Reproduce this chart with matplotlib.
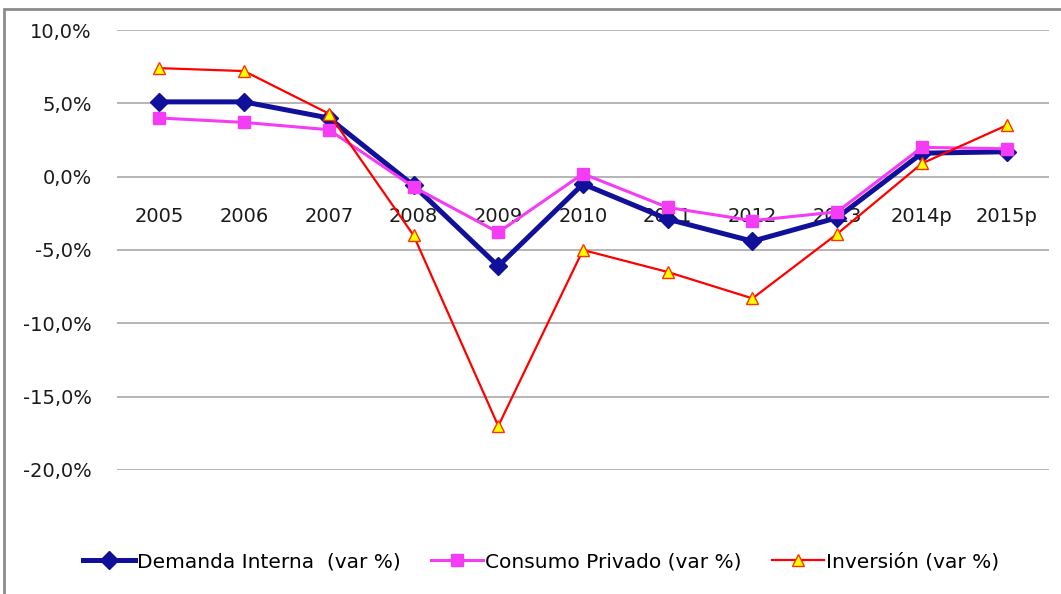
import matplotlib
matplotlib.use('Agg')
import matplotlib.pyplot as plt
from matplotlib.patches import Rectangle
from matplotlib.ticker import FuncFormatter

years = ['2005', '2006', '2007', '2008', '2009', '2010', '2011', '2012', '2013', '2014p', '2015p']
demanda_interna = [5.1, 5.1, 4.0, -0.6, -6.1, -0.5, -2.9, -4.4, -2.8, 1.6, 1.7]
consumo_privado = [4.0, 3.7, 3.2, -0.7, -3.8, 0.2, -2.1, -3.0, -2.4, 2.0, 1.9]
inversion = [7.4, 7.2, 4.3, -4.0, -17.0, -5.0, -6.5, -8.3, -3.9, 0.9, 3.5]

labels = ['Demanda Interna  (var %)', 'Consumo Privado (var %)', 'Inversión (var %)']

fig = plt.figure(figsize=(10.61, 5.94), dpi=100)
W, H = 1061, 594

# outer chart border (cut off at right/bottom like the screenshot)
fig.patches.append(Rectangle((4 / W, -0.05), 1.1, 1 - 9 / H + 0.05, transform=fig.transFigure,
                             fill=False, edgecolor='#8c8c8c', linewidth=2))

ax = fig.add_axes([117 / W, 1 - 470 / H, (1049 - 117) / W, (470 - 30) / H])
x = range(len(years))

ax.plot(x, demanda_interna, color='#10109a', linewidth=3.6, marker='D', markersize=9.5,
        label=labels[0], zorder=3)
ax.plot(x, consumo_privado, color='#f43cf4', linewidth=2.2, marker='s', markersize=9,
        label=labels[1], zorder=4)
ax.plot(x, inversion, color='#ff0000', linewidth=1.6, marker='^', markersize=9,
        markerfacecolor='#ffff00', markeredgecolor='#ff3300', markeredgewidth=1.0,
        label=labels[2], zorder=5)

ax.set_xlim(-0.5, len(years) - 0.5)
ax.set_ylim(-20, 10)
ax.set_yticks([10, 5, 0, -5, -10, -15, -20])
ax.yaxis.set_major_formatter(FuncFormatter(lambda v, p: f'{v:.1f}%'.replace('.', ',')))
ax.grid(axis='y', color='#a8a8a8', linewidth=1.2)
ax.set_axisbelow(True)

for s in ['top', 'right', 'left']:
    ax.spines[s].set_visible(False)
ax.spines['bottom'].set_position(('data', 0))
ax.spines['bottom'].set_visible(False)

ax.set_xticks(list(x))
ax.set_xticklabels(years)
ax.tick_params(axis='x', length=0, pad=22, labelsize=14, labelcolor='#1a1a1a')
ax.tick_params(axis='y', length=0, pad=18, labelsize=14, labelcolor='#1a1a1a')

leg = fig.legend(loc='center', bbox_to_anchor=(541 / W, 1 - 562 / H), ncol=3, frameon=False,
                 handlelength=2.6, handletextpad=0.1, columnspacing=1.5,
                 prop={'family': 'DejaVu Sans', 'size': 14.5})

fig.savefig('out.png', dpi=100)
